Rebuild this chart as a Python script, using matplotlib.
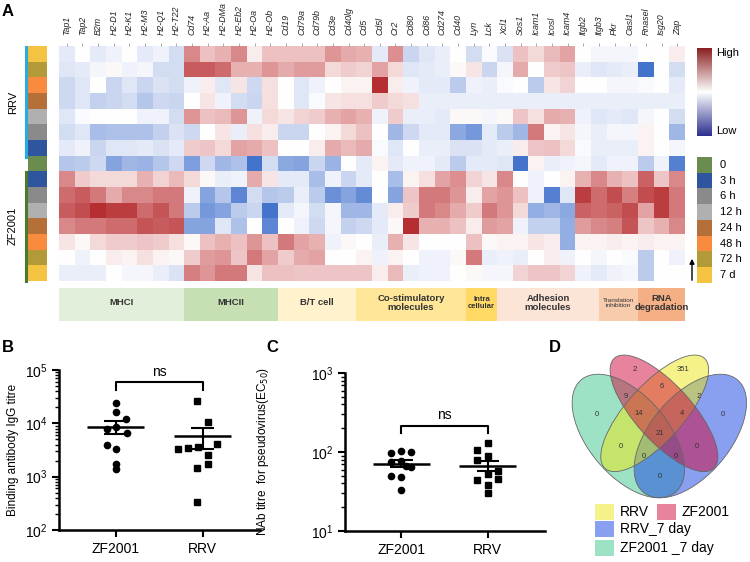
import numpy as np
import matplotlib
matplotlib.use('Agg')
import matplotlib.pyplot as plt
from matplotlib.colors import LinearSegmentedColormap
from matplotlib.patches import Ellipse, Rectangle

plt.rcParams['font.family'] = ['Liberation Sans', 'DejaVu Sans']

# ---- данные панели A (тепловая карта) ----
genes = ['Tap1', 'Tap2', 'B2m', 'H2-D1', 'H2-K1', 'H2-M3', 'H2-Q1', 'H2-T22',
         'Cd74', 'H2-Aa', 'H2-DMa', 'H2-Eb2', 'H2-Oa', 'H2-Ob',
         'Cd19', 'Cd79a', 'Cd79b', 'Cd3e', 'Cd40lg',
         'Cd5', 'Cd5l', 'Cr2', 'Cd80', 'Cd86', 'Cd274', 'Cd40',
         'Lyn', 'Lck',
         'Xcl1', 'Sos1', 'Icam1', 'Icosl', 'Icam4', 'Itgb2', 'Itgb3',
         'Pkr', 'Oasl1', 'Rnasel', 'Isg20', 'Zap']

categories = ['MHCI', 'MHCII', 'B/T cell', 'Co-stimulatory\nmolecules', 'Intra\ncellular',
              'Adhesion\nmolecules', 'Translation\ninhibition', 'RNA\ndegradation']
category_sizes = [8, 6, 5, 7, 2, 6.5, 2.5, 3]
category_colors = ['#e2efda', '#c6e0b4', '#fff2cc', '#ffe699', '#ffd966',
                   '#fce4d6', '#f8cbad', '#f4b084']

time_points = ['0', '3 h', '6 h', '12 h', '24 h', '48 h', '72 h', '7 d']
time_colors = ['#6a8c4e', '#2f559e', '#8a8a8a', '#b0b0b0', '#b5703a', '#f98b3f', '#b39a38', '#f4c342']

# строки RRV: 7 d, 72 h, 48 h, 24 h, 12 h, 6 h, 3 h
rrv_rows = [
    [-0.5, 0, -0.5, -0.3, 0, -0.5, -0.3, -0.8, 1.8, 1.0, 1.2, 1.8,
     0.3, 1.0, 1.0, 1.0, 1.0, 1.6, 1.3, 1.2, -0.5, 1.7, -1.0, -0.6, -0.4, 0, -0.8, -0.1,
     -0.7, 1.0, 0.6, 1.1, 1.4, 0, -0.2, -0.2, -0.2, 0, 0, 0.3],
    [-0.6, -0.5, -0.2, 0.1, -0.3, -0.2, -0.8, -0.8, 2.4, 2.4, 2.2, 1.2,
     1.2, 1.6, 1.3, 1.5, 1.5, 0.6, 0.8, 0.7, 1.4, 0.6, -0.6, -0.5, -0.4, 0.1, 0.4, -1.0,
     -0.2, 1.3, 0, 0.8, 0.9, -0.4, -0.6, -0.5, -0.4, -2.8, 0, -0.8],
    [-0.9, -0.6, 0, -1.0, -0.6, -1.0, -0.7, -0.8, -0.3, 0.3, -0.6, 0.4,
     -0.9, 0.5, 0, -0.6, -0.3, 0, 0.2, 0.2, 3.0, 0.3, -0.3, -0.5, -0.5, -1.2, -0.3, -0.4,
     -0.1, 0, -1.2, 0.4, 0.7, 0, 0, -0.2, -0.2, -0.1, 0, -0.5],
    [-0.9, -0.6, -1.1, -1.0, -0.8, -1.3, -0.9, -1.0, 0, 0.4, -0.3, -0.8,
     -1.0, 0.5, 0, -0.6, -0.1, 0.4, 0.5, 0.5, 0.8, 0.6, 0.5, -0.4, -0.4, -0.4, -0.4, -0.4,
     -0.4, -0.4, -0.4, -0.4, -0.4, -0.4, -0.4, -0.4, -0.4, -0.4, -0.4, -0.4],
    [-0.6, -0.1, 0, 0, 0, -0.3, -0.3, -0.8, 1.6, 1.0, 1.1, 1.6,
     -0.3, 0.6, 0.4, 0.7, 0.8, 1.2, 1.4, 1.2, -0.3, 0.8, -0.4, -0.4, -0.5, 0.1, 0.1, -0.2,
     0.1, 0.9, 0.5, 1.3, 1.2, -0.3, -0.6, -0.5, -0.6, -0.2, 0, -0.8],
    [-0.8, -0.6, -1.5, -1.4, -1.4, -1.4, -1.1, -0.7, -0.9, 0, 0.4, -0.4,
     0.5, 0.3, -1.0, -1.0, 0, 0.2, 0.6, 1.0, 0, -1.6, -0.9, -0.5, -0.5, -1.9, -2.2, -0.5,
     -1.2, -1.6, 2.0, 0.2, 0.4, -0.2, -0.4, -0.2, -0.2, 0.2, 0, -1.6],
    [-0.5, -0.3, -1.0, -0.6, -0.6, -0.5, -0.7, -0.5, 0.8, 0.9, 0.6, 1.4,
     1.3, 1.0, 0, 0, 0.3, 1.3, 1.1, 1.3, -0.1, -0.6, 0, -0.4, -0.4, -0.7, -0.7, -0.5,
     -0.4, 0.3, 0.9, 1.0, 0.6, -0.1, -0.4, -0.4, -0.4, 0.2, 0, -0.2],
]
# строка 0 (общая)
baseline_row = [-1.3, -1.2, -0.9, -2.0, -1.6, -1.7, -1.3, -0.9, -2.1, -0.9, -1.6, -1.4,
                -2.8, -0.8, -1.9, -2.0, -1.0, -1.7, 0, -0.5, 0.2, -0.5, -0.3, -0.3, -0.5, -1.2, -0.5, -0.5,
                -0.6, -2.8, 0.2, -0.4, -0.3, -0.2, -0.5, -0.3, -0.3, -1.2, -0.3, -2.6]
# строки ZF2001: 3 h, 6 h, 12 h, 24 h, 48 h, 72 h, 7 d
zf_rows = [
    [1.8, 0.8, 0.6, 0.6, 0.6, 1.2, 0.7, 1.1, 0.6, 0.1, -0.4, -0.3,
     1.3, 0.4, -0.5, -0.5, -1.5, -0.3, -1.0, -0.5, 0, -1.5, 0.2, 0.5, 1.4, 1.7, 0.7, 0.4,
     1.8, 0, -0.3, 0, 0.2, 1.2, 1.8, 1.2, 1.0, 2.3, 0.9, 1.8],
    [2.2, 2.4, 2.0, 1.3, 1.8, 1.8, 2.0, 2.0, -0.3, -2.0, -1.3, -2.5,
     -0.8, -1.3, -1.2, -0.4, -1.2, -2.3, -2.0, -2.4, 0, -2.0, 0.9, 2.0, 2.0, 1.6, 0.3, 1.4,
     1.6, 1.0, -0.3, -2.6, -0.6, 2.8, 2.2, 2.6, 1.9, 2.6, 2.8, 2.0],
    [2.4, 2.6, 3.0, 2.8, 2.8, 2.2, 2.5, 2.0, -1.2, -2.2, -2.0, -1.2,
     -1.0, -2.8, -0.5, -0.2, -0.8, -0.2, -1.6, -1.6, -0.5, 0.3, 0.8, 2.0, 1.8, 1.3, 0.8, 2.0,
     1.6, 0.6, -1.8, -1.6, -1.9, 2.3, 2.2, 2.3, 2.6, 1.4, 2.8, 2.0],
    [1.8, 2.0, 2.0, 2.2, 2.2, 2.5, 2.4, 2.5, -2.0, -2.0, -0.6, -1.4,
     0, -2.5, 0, -0.3, -0.9, -0.2, -1.1, -0.9, -0.5, 0.1, 3.0, 1.2, 1.2, 1.0, 0.3, 1.5,
     1.4, -0.3, -1.1, -1.1, -1.8, 1.5, 1.8, 1.9, 2.5, 0.9, 1.2, 1.8],
    [0.4, 0.1, 0.6, 0.8, 0.8, 0.9, 0.8, 0.5, 0.1, 1.0, 1.2, 1.0,
     1.6, 1.0, 2.0, 1.4, 1.2, -0.3, 0.1, 0, -0.4, 1.2, 0.4, 0, 0, 0, 1.0, 0.1,
     0.2, 0.2, 0.4, 0.3, -1.8, 0.2, 0.2, 0.3, 0.2, 0.3, 0.2, 0.2],
    [0, -0.3, 0, 0.3, 0.2, 0.5, 0.2, 0.1, 0.8, 1.5, 1.6, 0.9,
     2.0, 1.4, 0.8, 1.3, 1.4, 0, 0, 0.2, -0.3, 0.2, 0, -0.3, -0.3, 0.1, 2.0, -0.4,
     -0.3, -0.4, 0, 0.3, -0.3, 0, -0.2, 0, -0.1, -1.2, 0, -0.3],
    [-0.4, -0.4, -0.4, 0, -0.2, -0.2, -0.4, -0.7, 1.9, 1.6, 2.0, 2.0,
     0.4, 1.0, 1.0, 0.9, 0.9, 0.9, 0.9, 0.9, 0.3, 1.1, -0.4, -0.3, -0.3, 0, 0.1, -0.2,
     -0.2, 0.7, 0.9, 0.9, 0.7, -0.3, -0.5, -0.3, -0.2, -1.2, 0, 0],
]
row_times = ['7 d', '72 h', '48 h', '24 h', '12 h', '6 h', '3 h', '0',
             '3 h', '6 h', '12 h', '24 h', '48 h', '72 h', '7 d']

# ---- данные панелей B и C ----
groups = ['ZF2001', 'RRV']
igg_zf = [24400, 16600, 11900, 8700, 7700, 6700, 3900, 3300, 1740, 1380]
igg_rrv = [26600, 10800, 4100, 3300, 3400, 3550, 2570, 1740, 1480, 340]
nab_zf = [97, 104, 100, 74, 77, 66, 64, 50, 48, 33]
nab_rrv = [130, 105, 88, 80, 58, 52, 44, 38, 30, 45]

# ---- данные панели D (диаграмма Венна) ----
venn_sets = ['ZF2001 _7 day', 'RRV_7 day', 'RRV', 'ZF2001']
venn_counts = [2, 351, 9, 6, 2, 0, 14, 4, 0, 21, 0, 0, 0, 0, 0]

fig = plt.figure(figsize=(7.5, 5.62), dpi=100)


def px_axes(x0, y0, x1, y1):
    # оси по пиксельным координатам картинки
    return fig.add_axes([x0 / 750, 1 - y1 / 562, (x1 - x0) / 750, (y1 - y0) / 562])


# ---- A: тепловая карта ----
expr = np.array(rrv_rows + [baseline_row] + zf_rows)
cell_cmap = LinearSegmentedColormap.from_list(
    'expr', [(0, '#3568c8'), (1 / 6, '#86a4e0'), (2 / 6, '#cad6f0'), (0.5, '#ffffff'),
             (4 / 6, '#edc0c1'), (5 / 6, '#d57a7c'), (1, '#b52f32')])

ax = px_axes(59, 46, 685, 281)
ax.imshow(expr, cmap=cell_cmap, vmin=-3, vmax=3, aspect='auto', interpolation='nearest')
ax.xaxis.tick_top()
ax.set_xticks(range(len(genes)))
ax.set_xticklabels(genes, rotation=90, fontsize=6.4, fontstyle='italic', color='#222222')
ax.tick_params(axis='x', length=2, width=0.5, color='#888888', pad=6)
ax.set_yticks([])
for s in ax.spines.values():
    s.set_visible(False)

# цветная полоса времени слева
tc = dict(zip(time_points, time_colors))
row_rgb = np.array([[matplotlib.colors.to_rgb(tc[t])] for t in row_times])
axr = px_axes(28, 46, 47, 281)
axr.imshow(row_rgb, aspect='auto', interpolation='nearest')
axr.axis('off')

fig.add_artist(plt.Line2D([26 / 750] * 2, [1 - 47 / 562, 1 - 157 / 562], color='#29abe2', lw=2.2,
                          transform=fig.transFigure))
fig.add_artist(plt.Line2D([26 / 750] * 2, [1 - 172 / 562, 1 - 281 / 562], color='#4a7a2e', lw=2.2,
                          transform=fig.transFigure))
fig.text(13 / 750, 1 - 102 / 562, 'RRV', rotation=90, fontsize=8, ha='center', va='center')
fig.text(13 / 750, 1 - 226 / 562, 'ZF2001', rotation=90, fontsize=8, ha='center', va='center')

# полоса категорий генов
axc = px_axes(59, 288, 685, 321)
start = 0
for name, size, col in zip(categories, category_sizes, category_colors):
    axc.add_patch(Rectangle((start, 0), size, 1, color=col, lw=0))
    if name.startswith('Translation'):
        fs, fw = 4.6, 'normal'
    elif name.startswith('Intra'):
        fs, fw = 5.6, 'bold'
    else:
        fs, fw = 6.8, 'bold'
    axc.text(start + size / 2, 0.55, name, ha='center', va='center', fontsize=fs,
             family=['Liberation Sans Narrow', 'Liberation Sans'],
             weight=fw, color='#333333', linespacing=1.0)
    start += size
axc.set_xlim(0, len(genes))
axc.set_ylim(0, 1)
axc.axis('off')

# шкала High / Low
legend_cmap = LinearSegmentedColormap.from_list('hl', ['#2d318f', '#ffffff', '#8b2222'])
axcb = px_axes(697, 48, 712, 136)
axcb.imshow(np.linspace(1, 0, 100)[:, None], cmap=legend_cmap, aspect='auto')
axcb.axis('off')
fig.text(716 / 750, 1 - 53 / 562, 'High', fontsize=8, va='center')
fig.text(716 / 750, 1 - 131 / 562, 'Low', fontsize=8, va='center')

# легенда моментов времени
axt = px_axes(697, 157, 712, 283)
axt.imshow(np.array([[matplotlib.colors.to_rgb(c)] for c in time_colors]), aspect='auto',
           interpolation='nearest')
axt.axis('off')
for i, t in enumerate(time_points):
    fig.text(720 / 750, 1 - (157 + (i + 0.5) * 126 / 8) / 562, t, fontsize=8, va='center')
ax.annotate('', xy=(692 / 750, 1 - 256 / 562), xytext=(692 / 750, 1 - 283 / 562),
            xycoords='figure fraction', textcoords='figure fraction',
            arrowprops=dict(arrowstyle='-|>', color='black', lw=1, mutation_scale=7),
            annotation_clip=False)


# ---- B и C: точечные графики ----
def dot_panel(axp, data, markers, jitters, ylim, bracket, ylabel):
    for i, (vals, mk, jit) in enumerate(zip(data, markers, jitters)):
        x = i + 1
        vals = np.array(vals, dtype=float)
        axp.plot(x + np.array(jit), vals, mk, color='black', ms=4.5, ls='none', zorder=3)
        m = vals.mean()
        sem = vals.std(ddof=1) / np.sqrt(len(vals))
        axp.hlines(m, x - 0.33, x + 0.33, color='black', lw=1.8)
        axp.vlines(x, m - sem, m + sem, color='black', lw=1.5)
        axp.hlines([m - sem, m + sem], x - 0.13, x + 0.13, color='black', lw=1.5)
    axp.set_yscale('log')
    axp.set_ylim(*ylim)
    axp.set_xlim(0.35, 2.66)
    axp.set_xticks([1, 2])
    axp.set_xticklabels(groups, fontsize=10.5)
    top, drop = bracket
    axp.plot([1, 1, 2, 2], [drop, top, top, drop], color='black', lw=1.5)
    axp.text(1.5, top * 1.12, 'ns', ha='center', va='bottom', fontsize=10)
    axp.set_ylabel(ylabel, fontsize=8.5)
    for s in ['top', 'right']:
        axp.spines[s].set_visible(False)
    for s in ['left', 'bottom']:
        axp.spines[s].set_linewidth(1.8)
    axp.tick_params(axis='both', which='major', width=1.5, length=5, labelsize=10)
    axp.tick_params(axis='y', which='minor', width=1.0, length=3)


axB = px_axes(59, 370, 260, 530)
dot_panel(axB, [igg_zf, igg_rrv], ['o', 's'],
          [[0, 0, 0.12, 0, -0.1, 0.13, -0.1, 0, 0, 0],
           [-0.06, 0.06, 0.17, -0.28, -0.17, -0.05, 0.06, 0.06, -0.06, -0.06]],
          (1e2, 1e5), (60000, 43000), 'Binding antibody IgG titre')
axB.yaxis.set_label_coords(-0.2, 0.5)

axC = px_axes(345, 373, 545, 531)
dot_panel(axC, [nab_zf, nab_rrv], ['o', 's'],
          [[-0.115, 0, 0.115, -0.115, 0, 0.06, 0.115, -0.115, 0, 0],
           [0, -0.12, 0, -0.12, 0.115, 0, -0.12, 0, 0, 0.115]],
          (10, 1000), (215, 175), 'NAb titre  for pseudovirus(EC$_{50}$)')
axC.yaxis.set_label_coords(-0.37, 0.5)

# ---- D: диаграмма Венна ----
axD = px_axes(500, 330, 750, 562)
axD.set_xlim(0, 750)
axD.set_ylim(696, 0)
axD.axis('off')
axD.patch.set_visible(False)

# порядок отрисовки: ZF2001 _7 day, RRV_7 day, RRV, ZF2001
venn_colors = ['#3fc78d', '#1541e1', '#ebe715', '#d1093d']
ellipses = [((385, 318), 440, 240, 50), ((571, 318), 440, 240, -50),
            ((464, 250), 445, 170, -48), ((492, 250), 445, 170, 48)]
for (c, w, h, a), col in zip(ellipses, venn_colors):
    axD.add_patch(Ellipse(c, w, h, angle=a, facecolor=col, alpha=0.5, edgecolor='none'))
for (c, w, h, a) in ellipses:
    axD.add_patch(Ellipse(c, w, h, angle=a, facecolor='none', edgecolor='#666666', lw=0.6))

venn_pos = [(405, 118), (550, 118), (378, 198), (485, 168), (597, 198), (290, 255),
            (415, 250), (545, 250), (668, 255), (478, 310), (362, 350), (590, 350),
            (430, 378), (528, 378), (478, 438)]
for (x, y), n in zip(venn_pos, venn_counts):
    axD.text(x, y, str(n), ha='center', va='center', fontsize=5.5, color='#333333')

legend_pos = {'RRV': (285, 545), 'ZF2001': (470, 545), 'RRV_7 day': (285, 598),
              'ZF2001 _7 day': (285, 653)}
for name, col in zip(venn_sets, venn_colors):
    x, y = legend_pos[name]
    axD.add_patch(Rectangle((x, y - 24), 58, 48, facecolor=col, alpha=0.5, edgecolor='none'))
    axD.text(x + 75, y, name, ha='left', va='center', fontsize=10)

# подписи панелей
for lbl, x, y in [('A', 8, 12), ('B', 8, 348), ('C', 272, 348), ('D', 555, 348)]:
    fig.text(x / 750, 1 - y / 562, lbl, fontsize=12, weight='bold', ha='center', va='center')

fig.savefig('out.png', dpi=100)
